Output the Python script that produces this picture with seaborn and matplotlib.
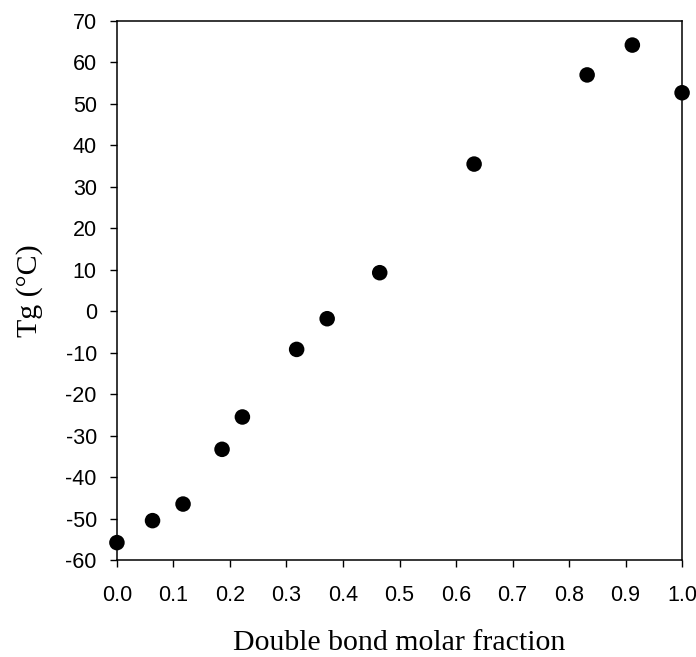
import matplotlib
matplotlib.use("Agg")
import matplotlib.pyplot as plt
import seaborn as sns
import pandas as pd

fraction = [0.0, 0.063, 0.117, 0.186, 0.222, 0.318, 0.372, 0.465, 0.632, 0.832, 0.912, 1.0]
tg = [-55.8, -50.5, -46.5, -33.3, -25.5, -9.2, -1.8, 9.3, 35.5, 57.0, 64.2, 52.7]
xticks = [0.0, 0.1, 0.2, 0.3, 0.4, 0.5, 0.6, 0.7, 0.8, 0.9, 1.0]
yticks = [-60, -50, -40, -30, -20, -10, 0, 10, 20, 30, 40, 50, 60, 70]

df = pd.DataFrame({"fraction": fraction, "tg": tg})

sns.set_style("ticks")
fig = plt.figure(figsize=(6.96, 6.57), dpi=100)
ax = fig.add_axes([0.168, 0.1476, 0.812, 0.8204])
sns.scatterplot(data=df, x="fraction", y="tg", ax=ax, color="black", s=125,
                edgecolor="none", clip_on=False, zorder=5)
ax.set_xlim(0, 1.0)
ax.set_ylim(-60, 70)
ax.set_xticks(xticks)
ax.set_xticklabels([f"{v:.1f}" for v in xticks])
ax.set_yticks(yticks)
ax.set_yticklabels([str(v) for v in yticks])
for s in ax.spines.values():
    s.set_linewidth(1.1)
    s.set_color("black")
ax.tick_params(direction="out", length=5, width=1.0, labelsize=15.5, color="black",
               labelcolor="black")
ax.tick_params(axis="x", pad=13)
ax.tick_params(axis="y", pad=9.5)
for lab in ax.get_xticklabels() + ax.get_yticklabels():
    lab.set_fontfamily("Liberation Sans")
ax.set_xlabel("Double bond molar fraction", fontsize=21.5, family="Liberation Serif",
              labelpad=17, color="black")
ax.set_ylabel("Tg (°C)", fontsize=21.5, family="Liberation Serif", labelpad=16, color="black")
fig.savefig("out.png", dpi=100)
